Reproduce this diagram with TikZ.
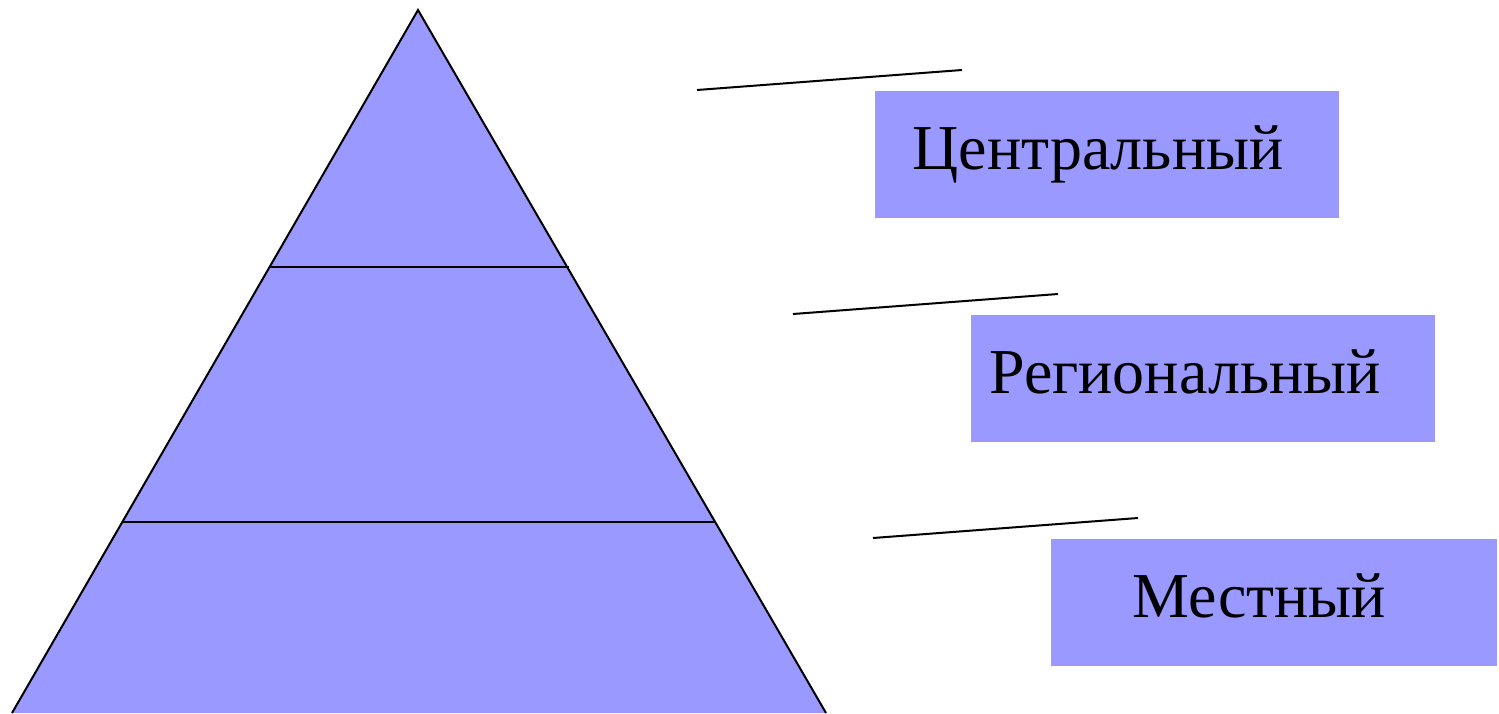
\documentclass[tikz,border=0pt]{standalone}
\usepackage{fontspec}
\setmainfont{Liberation Serif}
\usepackage{tikz}
\usetikzlibrary{positioning}
\definecolor{mylilac}{RGB}{153,153,255}
\tikzstyle{tag} = [fill=mylilac, inner sep=0pt, minimum width=464pt, minimum height=127pt, anchor=north west]
\tikzstyle{word} = [inner sep=0pt, anchor=base, font=\fontsize{64}{72}\selectfont]
\tikzstyle{pointer} = [line width=2pt]

\begin{document}
\begin{tikzpicture}[x=1pt, y=-1pt]
    \useasboundingbox (0,0) rectangle (1499,713);
    % pyramid
    \coordinate (top) at (418,10);
    \coordinate (bl) at (12,713);
    \coordinate (br) at (826,713);
    \fill[mylilac] (top) -- (bl) -- (br) -- cycle;
    \draw[pointer] (bl) -- (top) -- (br);
    \draw[pointer] (269,267) -- (569,267);
    \draw[pointer] (122,522) -- (716,522);
    % labels
    \node[tag] (c) at (875,91) {};
    \node[tag] (r) at (971,315) {};
    \node[tag, minimum width=446pt] (m) at (1051,539) {};
    \node[word] (ct) at (1098,169) {Центральный};
    \node[word] (rt) at (1185,393) {Региональный};
    \node[word] (mt) at (1259,617) {Местный};
    \coordinate (c1) at (697,90); \coordinate (c2) at (962,70);
    \coordinate (r1) at (793,314); \coordinate (r2) at (1058,294);
    \coordinate (m1) at (873,538); \coordinate (m2) at (1138,518);
    \draw[pointer] (c1) -- (c2); \draw[pointer] (r1) -- (r2); \draw[pointer] (m1) -- (m2);
\end{tikzpicture}
\end{document}
